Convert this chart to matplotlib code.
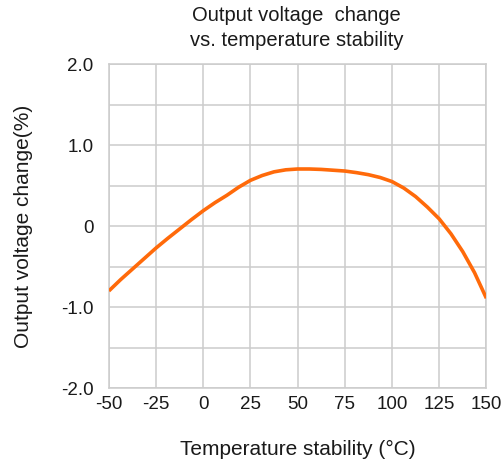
import matplotlib
matplotlib.use("Agg")
import matplotlib.pyplot as plt

# ---------------------------------------------------------------------------
# DATA
# ---------------------------------------------------------------------------
temps = [-50, -43.75, -37.5, -31.25, -25, -18.75, -12.5, -6.25, 0, 6.25,
         12.5, 18.75, 25, 31.25, 37.5, 43.75, 50, 56.25, 62.5, 68.75, 75,
         81.25, 87.5, 93.75, 100, 106.25, 112.5, 118.75, 125, 131.25,
         137.5, 143.75, 150]
change = [-0.80, -0.66, -0.53, -0.40, -0.27, -0.15, -0.035, 0.08, 0.19, 0.29,
          0.38, 0.48, 0.565, 0.625, 0.67, 0.695, 0.705, 0.705, 0.70, 0.69, 0.68,
          0.66, 0.635, 0.60, 0.55, 0.47, 0.365, 0.235, 0.09, -0.095,
          -0.315, -0.575, -0.89]

x_ticks = [-50, -25, 0, 25, 50, 75, 100, 125, 150]
y_ticks = [-2.0, -1.0, 0, 1.0, 2.0]
y_tick_labels = ["-2.0", "-1.0", "0", "1.0", "2.0"]
y_grid = [-2.0, -1.5, -1.0, -0.5, 0, 0.5, 1.0, 1.5, 2.0]

plt.rcParams["font.family"] = ["Liberation Sans", "DejaVu Sans"]
plt.rcParams["axes.unicode_minus"] = False

fig = plt.figure(figsize=(5.04, 4.61), dpi=100)
ax = fig.add_axes([0.216, 0.158, 0.749, 0.703])

grid_col = "#cccccc"
for y in y_grid:
    ax.axhline(y, color=grid_col, lw=1.1, zorder=1)
for x in x_ticks:
    ax.axvline(x, color=grid_col, lw=1.1, zorder=1)

ax.plot(temps, change, color="#ff6a0a", lw=2.6, solid_capstyle="butt",
        solid_joinstyle="round", zorder=3)

ax.set_xlim(-50, 150)
ax.set_ylim(-2.0, 2.0)
ax.set_xticks(x_ticks)
ax.set_yticks(y_ticks)
ax.set_yticklabels(y_tick_labels)
ax.tick_params(length=0, labelsize=13.5, colors="#1a1a1a")
ax.tick_params(axis="x", pad=6)
ax.tick_params(axis="y", pad=11)
for s in ax.spines.values():
    s.set_color(grid_col)
    s.set_linewidth(1.1)

ax.set_xlabel("Temperature stability (°C)", fontsize=15, color="#1a1a1a")
ax.set_ylabel("Output voltage change(%)", fontsize=15, color="#1a1a1a")
ax.xaxis.set_label_coords(0.5, -0.16)
ax.yaxis.set_label_coords(-0.20, 0.5)

fig.text(0.589, 0.988, "Output voltage  change\nvs. temperature stability",
         ha="center", va="top", fontsize=14.5, color="#1a1a1a",
         linespacing=1.4)

fig.savefig("out.png", dpi=100)
